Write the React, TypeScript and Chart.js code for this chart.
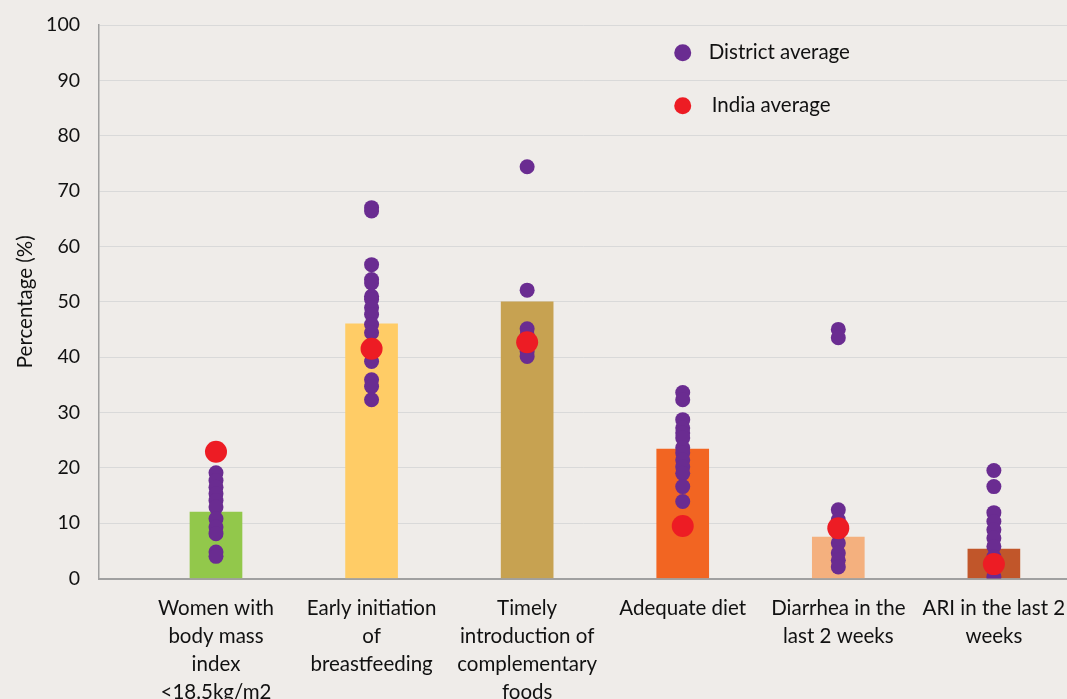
import React, { useEffect, useRef } from "react";
import { Chart, registerables } from "chart.js";

Chart.register(...registerables);

// Indicator categories (multi-line axis labels)
const categories: string[][] = [
  ["Women with", "body mass", "index", "<18.5kg/m2"],
  ["Early initiation", "of", "breastfeeding"],
  ["Timely", "introduction of", "complementary", "foods"],
  ["Adequate diet"],
  ["Diarrhea in the", "last 2 weeks"],
  ["ARI in the last 2", "weeks"],
];

// State-level bar values (%)
const barValues = [12, 46, 50, 23.4, 7.5, 5.3];
const barColors = ["#92C84B", "#FFCC66", "#C7A251", "#F26522", "#F4B07E", "#C1562A"];

// India average per indicator (%)
const indiaAverage = [22.9, 41.5, 42.7, 9.5, 9.1, 2.6];

// District averages per indicator (%)
const districtBmi = [19.1, 17.7, 16.5, 15.3, 14.1, 12.9, 10.8, 9.3, 8.1, 4.8, 4.0];
const districtBreastfeeding = [67.0, 66.4, 56.7, 54.0, 53.4, 51.0, 50.4, 48.9, 47.7, 45.9, 44.4, 40.7, 39.2, 35.9, 34.7, 32.3];
const districtComplementary = [74.4, 52.1, 45.1, 44.0, 41.0, 40.1];
const districtDiet = [33.6, 32.3, 28.7, 27.2, 26.3, 25.4, 23.6, 22.7, 21.4, 20.2, 19.0, 16.6, 13.9];
const districtDiarrhea = [45.0, 43.5, 12.4, 10.6, 8.2, 6.4, 4.6, 3.3, 2.1];
const districtAri = [19.5, 16.6, 11.9, 10.3, 8.8, 7.3, 5.8, 3.9, 2.1, 0.3];

const districtSeries = [
  districtBmi,
  districtBreastfeeding,
  districtComplementary,
  districtDiet,
  districtDiarrhea,
  districtAri,
];

const yTicks = [0, 10, 20, 30, 40, 50, 60, 70, 80, 90, 100];

const FONT = "Lato, 'Open Sans', sans-serif";
const BG = "#EFECE9";
const PURPLE = "#6A2C91";
const RED = "#ED1C24";
const TEXT = "#111111";

const WIDTH = 1067;
const HEIGHT = 699;

const legendItems = [
  { label: "District average", color: PURPLE, y: 95, textGap: 26 },
  { label: "India average", color: RED, y: 85.4, textGap: 29 },
];

const backgroundPlugin = {
  id: "pageBackground",
  beforeDraw(chart: any) {
    const { ctx, width, height } = chart;
    ctx.save();
    ctx.fillStyle = BG;
    ctx.fillRect(0, 0, width, height);
    ctx.restore();
  },
};

// Legend drawn inside the plot area, anchored to data coordinates
const insideLegendPlugin = {
  id: "insideLegend",
  afterDraw(chart: any) {
    const { ctx, scales } = chart;
    const x = scales.x.getPixelForValue(4);
    ctx.save();
    ctx.font = `20.5px ${FONT}`;
    ctx.textBaseline = "middle";
    ctx.textAlign = "left";
    legendItems.forEach((item) => {
      const y = scales.y.getPixelForValue(item.y);
      ctx.beginPath();
      ctx.arc(x, y, 8.5, 0, Math.PI * 2);
      ctx.fillStyle = item.color;
      ctx.fill();
      ctx.fillStyle = TEXT;
      ctx.fillText(item.label, x + item.textGap, y);
    });
    ctx.restore();
  },
};

export default function App() {
  const canvasRef = useRef<HTMLCanvasElement | null>(null);

  useEffect(() => {
    document.body.style.margin = "0";
    document.body.style.background = BG;
    if (!canvasRef.current) return;

    const barData = barValues.map((v, i) => ({ x: i + 1, y: v }));
    const indiaData = indiaAverage.map((v, i) => ({ x: i + 1, y: v }));
    const districtData = districtSeries.flatMap((arr, i) => arr.map((v) => ({ x: i + 1, y: v })));

    const chart = new Chart(canvasRef.current, {
      type: "scatter",
      data: {
        datasets: [
          {
            type: "scatter",
            label: "India average",
            data: indiaData,
            backgroundColor: RED,
            borderWidth: 0,
            pointRadius: 11,
            pointHoverRadius: 11,
          },
          {
            type: "scatter",
            label: "District average",
            data: districtData,
            backgroundColor: PURPLE,
            borderWidth: 0,
            pointRadius: 7.5,
            pointHoverRadius: 7.5,
          },
          {
            type: "bar",
            label: "State",
            data: barData as any,
            backgroundColor: barColors,
            borderWidth: 0,
            barThickness: 52,
          } as any,
        ],
      },
      options: {
        animation: false,
        responsive: false,
        maintainAspectRatio: false,
        devicePixelRatio: 1,
        layout: { autoPadding: false, padding: { top: 25, left: 0, right: 0, bottom: 0 } },
        plugins: {
          legend: { display: false },
          tooltip: { enabled: false },
        },
        scales: {
          x: {
            type: "linear",
            min: 0.248,
            max: 6.47,
            offset: false,
            grid: { display: false, drawTicks: false },
            border: { display: true, color: "#A0A0A0", width: 2 },
            afterBuildTicks: (scale: any) => {
              scale.ticks = categories.map((_, i) => ({ value: i + 1 }));
            },
            afterFit: (scale: any) => {
              scale.height = 120.5;
              scale.paddingLeft = 0;
              scale.paddingRight = 0;
            },
            ticks: {
              autoSkip: false,
              maxRotation: 0,
              minRotation: 0,
              padding: 16,
              color: TEXT,
              font: { family: FONT, size: 20.5, lineHeight: 1.36 },
              callback: (value: any) => categories[Math.round(Number(value)) - 1] ?? "",
            },
          },
          y: {
            type: "linear",
            min: 0,
            max: 100,
            afterBuildTicks: (scale: any) => {
              scale.ticks = yTicks.map((v) => ({ value: v }));
            },
            afterFit: (scale: any) => {
              scale.width = 99;
              scale.paddingTop = 0;
              scale.paddingBottom = 0;
            },
            grid: { color: "#D9D9D9", lineWidth: 1, drawTicks: false },
            border: { display: true, color: "#A0A0A0", width: 1.5 },
            ticks: {
              padding: 19,
              color: TEXT,
              font: { family: FONT, size: 19.5 },
            },
            title: {
              display: true,
              text: "Percentage (%)",
              color: TEXT,
              font: { family: FONT, size: 20.5 },
              padding: { top: 13, bottom: 0 },
            },
          },
        },
      },
      plugins: [backgroundPlugin, insideLegendPlugin],
    });

    return () => chart.destroy();
  }, []);

  return (
    <div style={{ position: "fixed", left: 0, top: 0, width: WIDTH, height: HEIGHT, background: BG }}>
      <canvas ref={canvasRef} width={WIDTH} height={HEIGHT} style={{ display: "block" }} />
    </div>
  );
}
